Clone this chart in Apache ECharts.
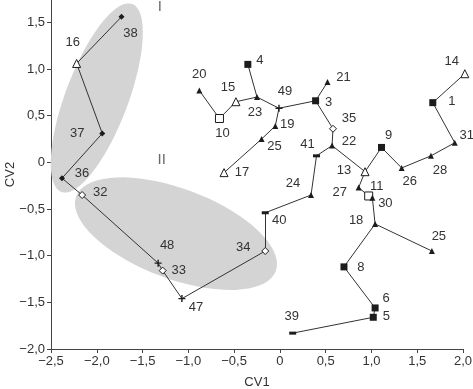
<!DOCTYPE html>
<html>
<head>
<meta charset="utf-8">
<script src="https://cdn.jsdelivr.net/npm/echarts@6/dist/echarts.min.js"></script>
<style>
  html, body { margin: 0; padding: 0; background: #fff; }
  #chart { width: 473px; height: 389px; }
</style>
</head>
<body>
<div id="chart"></div>
<script>
// node ids (25 appears twice, so a/b suffix), coordinates and marker kind
var ids   = ['38', '16', '37', '36', '32', '48', '33', '47', '34', '40', '24', '41', '22', '35', '3', '21', '49', '23', '4', '15', '10', '20', '19', '25a', '17', '13', '9', '26', '28', '31', '1', '14', '27', '11', '30', '18', '25b', '8', '6', '5', '39'];
var cv1   = [-1.73, -2.22, -1.94, -2.38, -2.16, -1.33, -1.28, -1.07, -0.16, -0.16, 0.34, 0.40, 0.57, 0.58, 0.39, 0.52, -0.01, -0.25, -0.35, -0.48, -0.66, -0.88, -0.05, -0.20, -0.61, 0.93, 1.11, 1.33, 1.65, 1.91, 1.67, 2.02, 0.86, 0.97, 1.01, 1.04, 1.66, 0.70, 1.04, 1.02, 0.14];
var cv2   = [1.56, 1.06, 0.31, -0.17, -0.35, -1.08, -1.16, -1.46, -0.95, -0.54, -0.35, 0.07, 0.18, 0.36, 0.66, 0.86, 0.58, 0.70, 1.05, 0.65, 0.47, 0.77, 0.39, 0.25, -0.11, -0.10, 0.16, -0.06, 0.07, 0.21, 0.64, 0.95, -0.27, -0.36, -0.38, -0.66, -0.95, -1.12, -1.56, -1.66, -1.83];
var kinds = ['dia', 'otri', 'dia', 'dia', 'odia', 'plus', 'odia', 'plus', 'odia', 'bar', 'tri', 'bar', 'tri', 'odia', 'sq', 'tri', 'plus', 'tri', 'sq', 'otri', 'osq', 'tri', 'tri', 'tri', 'otri', 'otri', 'sq', 'tri', 'tri', 'tri', 'sq', 'otri', 'tri', 'osq', 'tri', 'tri', 'tri', 'sq', 'sq', 'sq', 'bar'];

// tree links
var edges = [
  ['38', '16'], ['16', '37'], ['37', '36'], ['36', '32'], ['32', '48'], ['48', '33'], ['33', '47'],
  ['47', '34'], ['34', '40'], ['40', '24'], ['24', '41'], ['41', '22'], ['22', '35'], ['35', '3'],
  ['3', '21'], ['3', '49'], ['49', '23'], ['23', '4'], ['23', '15'], ['15', '10'], ['10', '20'],
  ['49', '19'], ['19', '25a'], ['25a', '17'], ['22', '13'], ['13', '9'], ['9', '26'], ['26', '28'],
  ['28', '31'], ['31', '1'], ['1', '14'], ['13', '27'], ['27', '11'], ['11', '30'], ['30', '18'],
  ['18', '25b'], ['18', '8'], ['8', '6'], ['6', '5'], ['5', '39']
];

// group ellipses: centre, half major axis vector, half minor axis vector (data units)
var ellipseI  = [-2.00, 0.69, 0.388, 1.007, 0.32, -0.12];
var ellipseII = [-1.135, -0.764, 1.09, -0.40, -0.172, -0.452];

var groupNames = ['I', 'II'];
var groupPos = [[-1.31, 1.67], [-1.29, 0.03]];

var yTicks = [-2, -1.5, -1, -0.5, 0, 0.5, 1, 1.5];

// label offsets in px
var offs = {
  '38': [9, 17], '16': [-4, -21], '37': [-25, 0], '36': [20, -5], '32': [18, -3],
  '48': [9, -18], '33': [16, 0], '47': [14, 9], '34': [-22, -4], '40': [14, 8],
  '24': [-18, -12], '41': [-9, -11], '22': [17, -4], '35': [16, -10], '3': [13, 2],
  '21': [16, -5], '49': [6, -17], '23': [-2, 15], '4': [12, -4], '15': [-8, -14],
  '10': [3, 15], '20': [0, -16], '19': [12, -2], '25a': [13, 7], '17': [18, 0],
  '13': [-21, -1], '9': [7, -12], '26': [8, 13], '28': [9, 15], '31': [12, -7],
  '1': [19, -1], '14': [-13, -12], '27': [-19, 5], '11': [8, -10], '30': [13, 6],
  '18': [-19, -4], '25b': [7, -15], '8': [17, 1], '6': [11, -10], '5': [13, -1], '39': [-1, -17]
};

var ink = '#1c1c1c';
var marks = {
  sq:   { symbol: 'rect', size: 7, fill: ink },
  osq:  { symbol: 'rect', size: 8, fill: '#fff' },
  tri:  { symbol: 'triangle', size: 6, fill: ink },
  otri: { symbol: 'triangle', size: 8, fill: '#fff' },
  dia:  { symbol: 'diamond', size: 6, fill: ink },
  odia: { symbol: 'diamond', size: 7, fill: '#fff' },
  plus: { symbol: 'path://M4,0h2v4h4v2h-4v4h-2v-4h-4v-2h4z', size: 7, fill: ink },
  bar:  { symbol: 'rect', size: [7, 3], fill: ink }
};

var nodes = ids.map(function (id, i) {
  var m = marks[kinds[i]];
  return {
    name: id,
    value: [cv1[i], cv2[i]],
    symbol: m.symbol,
    symbolSize: m.size,
    itemStyle: { color: m.fill, borderColor: ink, borderWidth: m.fill === '#fff' ? 1 : 0 },
    label: { offset: offs[id] }
  };
});

var links = edges.map(function (e) {
  return { source: e[0], target: e[1] };
});

function ellipseItem(params, api) {
  var pts = [];
  for (var k = 0; k < 72; k++) {
    var t = k / 72 * Math.PI * 2;
    var c = Math.cos(t), s = Math.sin(t);
    pts.push(api.coord([
      api.value(0) + api.value(2) * c + api.value(4) * s,
      api.value(1) + api.value(3) * c + api.value(5) * s
    ]));
  }
  return { type: 'polygon', shape: { points: pts }, style: { fill: '#d4d4d4' } };
}

function fmt(v) {
  if (v === 0) return '0';
  return (v < 0 ? '\u2212' : '') + Math.abs(v).toFixed(1).replace('.', ',');
}

var chart = echarts.init(document.getElementById('chart'));
var font = 'Liberation Sans, Arial, sans-serif';

chart.setOption({
  animation: false,
  textStyle: { fontFamily: font },
  grid: { left: 51, right: 10, top: 0, bottom: 40, containLabel: false, outerBoundsMode: 'none' },
  xAxis: {
    type: 'value',
    min: -2.5,
    max: 2.0,
    interval: 0.5,
    name: 'CV1',
    nameLocation: 'middle',
    nameGap: 27,
    nameMoveOverlap: false,
    nameTextStyle: { color: '#333', fontSize: 13, fontFamily: font },
    axisLine: { show: true, onZero: false, lineStyle: { color: '#444' } },
    axisTick: { show: true, length: 4, lineStyle: { color: '#444' } },
    axisLabel: { color: '#333', fontSize: 13, margin: 6, formatter: fmt },
    splitLine: { show: false }
  },
  yAxis: {
    type: 'value',
    min: -2.0,
    max: 1.74,
    name: 'CV2',
    nameLocation: 'middle',
    nameGap: 34,
    nameMoveOverlap: false,
    nameTextStyle: { color: '#333', fontSize: 13, fontFamily: font },
    axisLine: { show: true, onZero: false, lineStyle: { color: '#444' } },
    axisTick: { show: true, length: 4, customValues: yTicks, lineStyle: { color: '#444' } },
    axisLabel: { color: '#333', fontSize: 13, margin: 6, customValues: yTicks, formatter: fmt },
    splitLine: { show: false }
  },
  series: [
    {
      type: 'custom',
      renderItem: ellipseItem,
      data: [ellipseI, ellipseII],
      z: 1,
      silent: true
    },
    {
      type: 'scatter',
      data: groupPos.map(function (p, i) { return [p[0], p[1], groupNames[i]]; }),
      symbolSize: 0,
      z: 2,
      label: {
        show: true,
        position: 'inside',
        color: '#444',
        fontSize: 15,
        formatter: function (p) { return p.value[2]; }
      }
    },
    {
      type: 'graph',
      coordinateSystem: 'cartesian2d',
      layout: 'none',
      z: 3,
      data: nodes,
      links: links,
      lineStyle: { color: '#333', width: 1, opacity: 1, curveness: 0 },
      label: {
        show: true,
        position: 'inside',
        color: '#333',
        fontSize: 13,
        formatter: function (p) { return p.name.replace(/[ab]$/, ''); }
      },
      emphasis: { disabled: true }
    }
  ]
});
</script>
</body>
</html>
